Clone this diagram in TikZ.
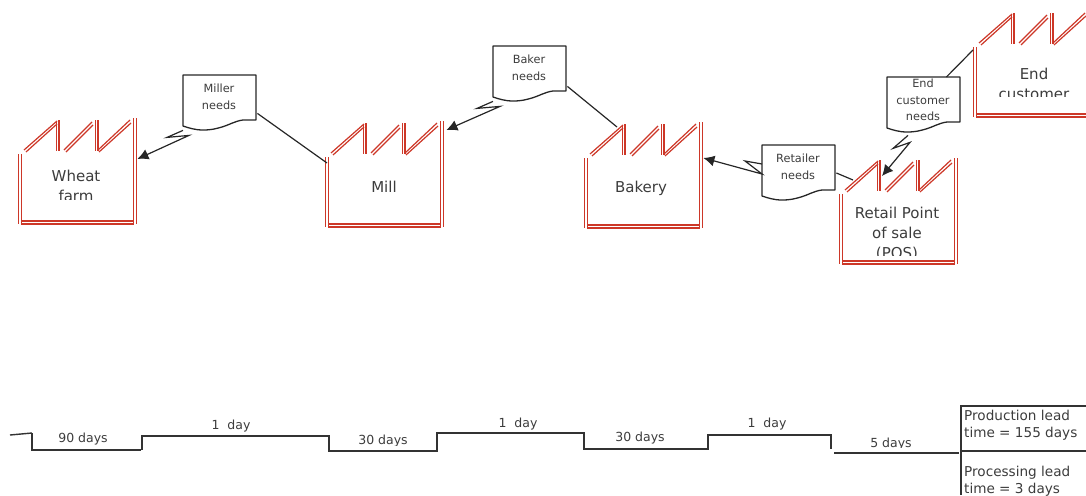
\documentclass[tikz,border=0pt]{standalone}
\usepackage{fontspec}
\setmainfont{DejaVu Sans}
\usetikzlibrary{arrows.meta}
\definecolor{fred}{RGB}{205,55,40}
\definecolor{ftext}{RGB}{60,60,60}
\tikzset{
  x=1pt,y=-1pt,
  redline/.style={draw=fred,line width=1.2pt,line cap=butt,line join=miter},
  fbox/.style={rectangle,minimum width=119pt,minimum height=107pt,inner sep=0pt,anchor=north west},
  dbox/.style={rectangle,minimum width=73pt,minimum height=45pt,inner sep=0pt,anchor=north west},
  flabel/.style={font=\fontsize{15}{20}\selectfont,text=ftext,align=center,inner sep=0pt},
  dlabel/.style={font=\fontsize{11.3}{16.5}\selectfont,text=ftext,align=center,inner sep=0pt},
  tlabel/.style={font=\fontsize{12.5}{14}\selectfont,text=ftext,inner sep=0pt},
  blabel/.style={font=\fontsize{13.6}{16.5}\selectfont,text=ftext,align=left,inner sep=0pt,anchor=north west},
  link/.style={draw=black!85,line width=1.2pt},
  pull/.style={draw=black!85,line width=1.2pt,-{Latex[length=11pt,width=11pt]}},
  tline/.style={draw=black!80,line width=1.4pt},
}
\newcommand{\factory}[3]{%
  \node[fbox] (#1) at (#2,#3) {};
  \begin{scope}[shift={(#2,#3)}]
    \draw[redline] (0.5,36) -- (0.5,106);
    \draw[redline] (3.5,36) -- (3.5,106);
    \draw[redline] (115.5,0) -- (115.5,106);
    \draw[redline] (118.5,0) -- (118.5,106);
    \draw[redline] (3,103) -- (116,103);
    \draw[redline] (3,106) -- (116,106);
    \draw[redline] (6,32) -- (39,3);
    \draw[redline] (8,34) -- (39,6);
    \draw[redline] (38.5,3) -- (38.5,33);
    \draw[redline] (41,2) -- (41,33);
    \draw[redline] (46,32) -- (74,4);
    \draw[redline] (48,34) -- (75,7);
    \draw[redline] (77.5,2) -- (77.5,33);
    \draw[redline] (80,2) -- (80,33);
    \draw[redline] (80,32) -- (112,2);
    \draw[redline] (81,34) -- (113,5);
  \end{scope}}
\newcommand{\databox}[4]{%
  \node[dbox] (#1) at (#2,#3) {};
  \begin{scope}[shift={(#2,#3)}]
    \draw[draw=black!85,line width=1.3pt,line join=round] (0,0) -- (73,0) -- (73,45) -- (60,45)
      .. controls (52,46) and (46,50) .. (39,52)
      .. controls (32,54) and (28,55) .. (20,55)
      .. controls (12,55) and (6,53) .. (0,51) -- cycle;
  \end{scope}
  \node[dlabel] at (#2+36,#3+#4) {\csname dtext#1\endcsname};}
\newcommand{\dtextmiller}{Miller\\needs}
\newcommand{\dtextbaker}{Baker\\needs}
\newcommand{\dtextendc}{End\\customer\\needs}
\newcommand{\dtextretailer}{Retailer\\needs}
\begin{document}
\begin{tikzpicture}
\useasboundingbox (0,0) rectangle (1086,495);
\clip (0,0) rectangle (1086,495);

\factory{wheat}{18}{118}
\factory{mill}{325}{121}
\factory{bakery}{584}{122}
\factory{retail}{839}{158}
\factory{endcust}{973}{11}

\begin{scope}\clip (18,160) rectangle (137,199.5);
  \node[flabel] (wheatl) at (76,185.5) {Wheat\\farm};
\end{scope}
\node[flabel] (milll) at (384,187) {Mill};
\node[flabel] (bakeryl) at (641,188) {Bakery};
\begin{scope}\clip (845,200) rectangle (950,255);
  \node[flabel] (retaill) at (897,233.5) {Retail Point\\of sale\\(POS)};
\end{scope}
\begin{scope}\clip (980,60) rectangle (1086,96);
  \node[flabel] (endl) at (1034,84) {End\\customer};
\end{scope}

\databox{miller}{183}{75}{22}
\databox{baker}{493}{46}{22}
\databox{endc}{887}{77}{23}
\databox{retailer}{762}{145}{22}

% electronic information flows
\draw[pull] ([shift={(0,10)}]miller.south west) -- +(-16,7) -- +(6,5) -- ([shift={(0,41)}]wheat.north east);
\draw[pull] ([shift={(0,10)}]baker.south west) -- +(-16,7) -- +(7,5) -- ([shift={(2,9)}]mill.north east);
\draw[pull] ([shift={(21,13)}]endc.south west) -- +(-15,13) -- +(2,7) -- ([shift={(43,18)}]retail.north west);
\draw[pull] ([shift={(0,19)}]retailer.north west) -- +(-17,-3) -- +(0,10) -- ([shift={(0,36)}]bakery.north east);

% plain links
\draw[link] ([shift={(1,-7)}]miller.south east) -- ([shift={(2,42)}]mill.north west);
\draw[link] ([shift={(1,-5)}]baker.south east) -- ([shift={(33,5)}]bakery.north west);
\draw[link] ([shift={(1,28)}]retailer.north east) -- ([shift={(14,22)}]retail.north west);
\draw[link] ([shift={(-14,0)}]endc.north east) -- ([shift={(0,39)}]endcust.north west);

% timeline
\draw[tline] (10,435) -- (32,433);
\draw[tline] (32,433) -- (32,450) -- (141,450);
\draw[tline] (142,450) -- (142,436) -- (329,436) -- (329,451) -- (437,451) -- (437,433) -- (584,433) -- (584,449) -- (708,449) -- (708,435) -- (831,435) -- (831,449);
\draw[tline] (834,453) -- (959,453);
\node[tlabel] (t1) at (83,439) {90 days};
\node[tlabel] (t2) at (231,426) {1\hspace{4pt} day};
\begin{scope}\clip (330,430) rectangle (436,445);
  \node[tlabel] (t3) at (383,441) {30 days};
\end{scope}
\node[tlabel] (t4) at (518,424) {1\hspace{4pt} day};
\node[tlabel] (t5) at (640,438) {30 days};
\node[tlabel] (t6) at (767,424) {1\hspace{4pt} day};
\begin{scope}\clip (835,430) rectangle (958,447.5);
  \node[tlabel] (t7) at (891,444) {5 days};
\end{scope}

% summary box
\draw[tline] (1086,406) -- (961,406) -- (961,495);
\draw[tline] (961,451) -- (1086,451);
\node[blabel] (prod) at (964,410) {Production lead\\time = 155 days};
\node[blabel] (proc) at (964,466) {Processing lead\\time = 3 days};
\end{tikzpicture}
\end{document}
